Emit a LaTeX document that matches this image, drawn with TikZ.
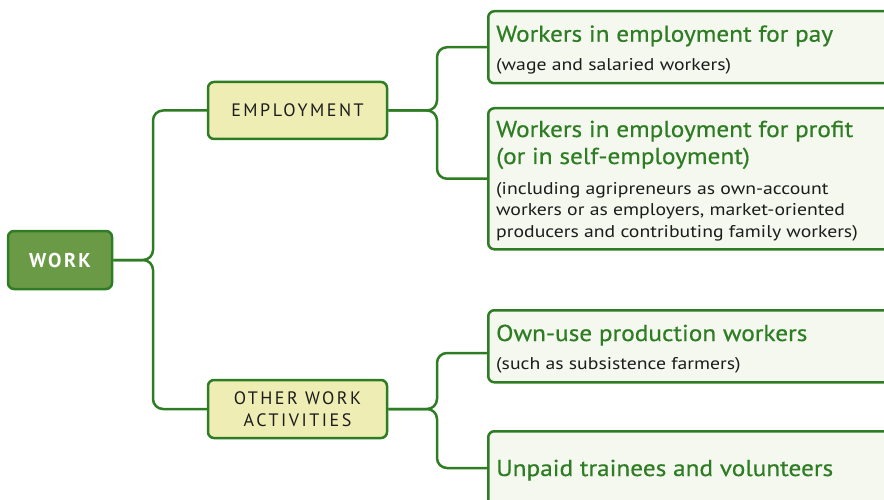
\documentclass[tikz,border=0pt]{standalone}
\usepackage{fontspec}
\setmainfont{PT Sans}
\newfontfamily\spacedfont[LetterSpace=14]{PT Sans}
\newfontfamily\spacedbold[LetterSpace=12]{PT Sans Bold}
\newfontfamily\ttlfont[FakeStretch=1.10,FakeBold=0.5]{PT Sans}
\newfontfamily\subfont[FakeStretch=1.16]{PT Sans}
\definecolor{gline}{HTML}{2E7D24}
\definecolor{rootfill}{HTML}{6A9A46}
\definecolor{midfill}{HTML}{EEEEB4}
\definecolor{leaffill}{HTML}{F4F8EE}
\definecolor{gtext}{HTML}{2E7D24}
\definecolor{dtext}{HTML}{1C1C1C}
\tikzset{
  boxbase/.style={draw=gline, line width=2.5pt, rounded corners=6pt, inner sep=0pt},
  rootbox/.style={boxbase, fill=rootfill, minimum width=104pt, minimum height=58pt,
    text=white, font=\spacedbold\fontsize{20}{22}\selectfont},
  midbox/.style={boxbase, fill=midfill, minimum width=179pt, minimum height=57pt,
    text=dtext, align=center, font=\spacedfont\fontsize{18}{21.5}\selectfont},
  leafbox/.style={boxbase, fill=leaffill, anchor=north west, minimum width=430pt},
  conn/.style={draw=gline, line width=2.5pt, rounded corners=10pt},
  ttl/.style={anchor=base west, inner sep=0pt, text=gtext, align=left,
    font=\ttlfont\fontsize{23}{27}\selectfont},
  sub/.style={anchor=base west, inner sep=0pt, text=dtext, align=left,
    font=\subfont\fontsize{17}{21.5}\selectfont},
}
\begin{document}
\begin{tikzpicture}[x=1pt,y=-1pt]
\useasboundingbox (0,0) rectangle (884,500);
\clip (0,0) rectangle (884,500);
% nodes
\node[rootbox] (work) at (60,260) {WORK};
\node[midbox] (emp) at (297.5,110.5) {EMPLOYMENT};
\node[midbox, minimum height=58pt] (oth) at (297.5,409) {OTHER WORK\\ACTIVITIES};
\node[leafbox, minimum height=72pt] (p1) at (487,10) {};
\node[leafbox, minimum height=141pt] (p2) at (487,107) {};
\node[leafbox, minimum height=72pt] (p3) at (487,309) {};
\node[leafbox, minimum height=100pt] (p4) at (487,430) {};
% connectors
\coordinate (b0) at (153,260);
\coordinate (b1) at (437,110.5);
\coordinate (b2) at (437,409);
\coordinate (c3) at ([yshift=-44pt]p3.north west);
\coordinate (c4) at ([yshift=-38pt]p4.north west);
\draw[conn] (work.east) -- (b0) -- (b0 |- emp.west) -- (emp.west);
\draw[conn] (work.east) -- (b0) -- (b0 |- oth.west) -- (oth.west);
\draw[conn] (emp.east) -- (b1) -- (b1 |- p1.west) -- (p1.west);
\draw[conn] (emp.east) -- (b1) -- (b1 |- p2.west) -- (p2.west);
\draw[conn] (oth.east) -- (b2) -- (b2 |- c3) -- (c3);
\draw[conn] (oth.east) -- (b2) -- (b2 |- c4) -- (c4);
% texts (base anchor = baseline of last line)
\node[ttl] (t1) at (496,41.7) {Workers in employment for pay};
\node[sub] (s1) at (496,71) {(wage and salaried workers)};
\node[ttl] (t2) at (496,164) {Workers in employment for profit\\(or in self-employment)};
\node[sub] (s2) at (496,237) {(including agripreneurs as own-account\\workers or as employers, market-oriented\\producers and contributing family workers)};
\node[ttl] (t3) at (496,341) {Own-use production workers};
\node[sub] (s3) at (496,369) {(such as subsistence farmers)};
\node[ttl] (t4) at (496,476) {Unpaid trainees and volunteers};
\end{tikzpicture}
\end{document}
